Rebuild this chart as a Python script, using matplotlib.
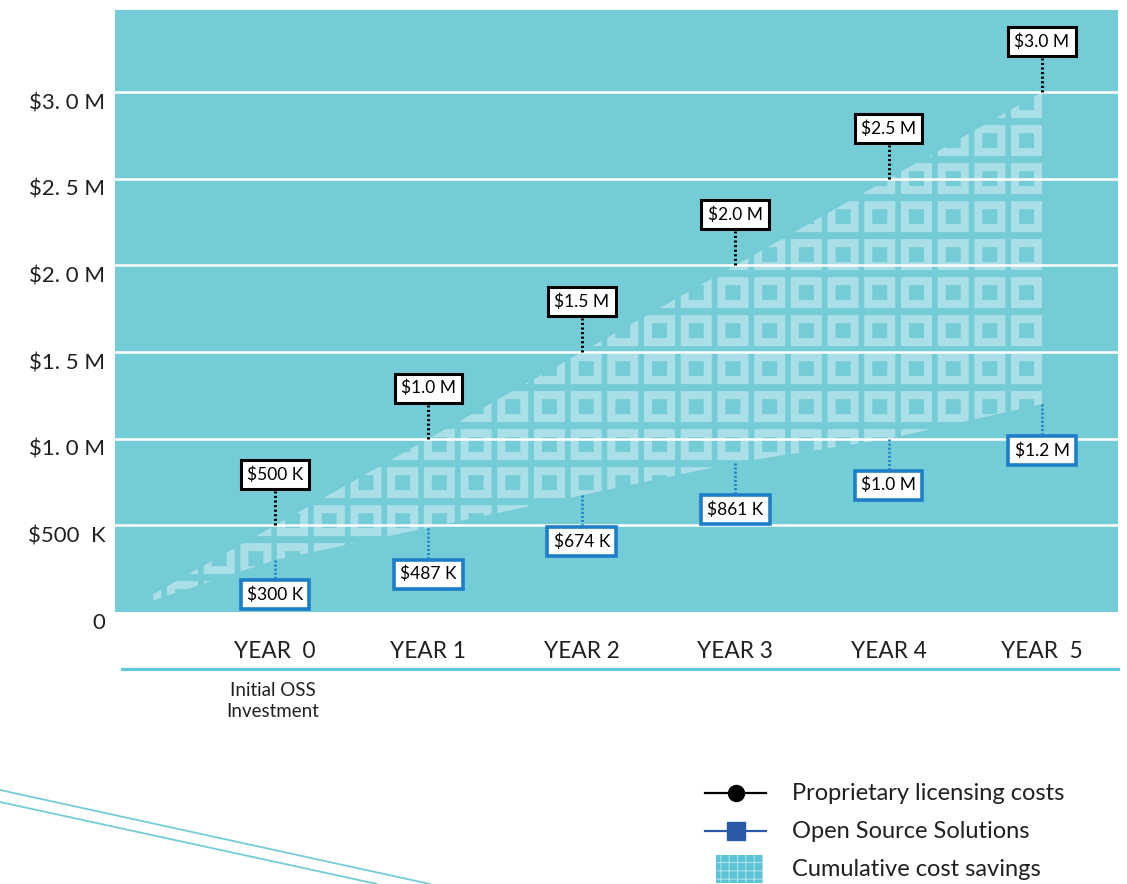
import numpy as np
import matplotlib
matplotlib.use('Agg')
import matplotlib.pyplot as plt
from matplotlib.path import Path
from matplotlib.patches import PathPatch, Polygon, Rectangle
from matplotlib.lines import Line2D
from matplotlib.transforms import IdentityTransform, ScaledTranslation

plt.rcParams['font.family'] = ['Lato', 'DejaVu Sans']

# data
years = [0, 1, 2, 3, 4, 5]
year_labels = ['YEAR  0', 'YEAR 1', 'YEAR 2', 'YEAR 3', 'YEAR 4', 'YEAR  5']
prop_costs = [0.5, 1.0, 1.5, 2.0, 2.5, 3.0]          # $M
oss_costs = [0.3, 0.487, 0.674, 0.861, 1.0, 1.2]      # $M
prop_labels = ['$500 K', '$1.0 M', '$1.5 M', '$2.0 M', '$2.5 M', '$3.0 M']
oss_labels = ['$300 K', '$487 K', '$674 K', '$861 K', '$1.0 M', '$1.2 M']
y_ticks = [0, 0.5, 1.0, 1.5, 2.0, 2.5, 3.0]
y_tick_labels = ['0', '$500  K', '$1. 0 M', '$1. 5 M', '$2. 0 M', '$2. 5 M', '$3. 0 M']
wedge_start = -0.8       # savings wedge begins a bit left of year 0
wedge_start_low = 0.065

TEAL = '#74CCD6'
LIGHT = '#ABDFE8'
BLUE = '#1E7DC8'
TXT = '#231F20'

W, H = 1127, 884
fig = plt.figure(figsize=(W / 100, H / 100), dpi=100)
ax = fig.add_axes([115 / W, 1 - 612 / H, (1118 - 115) / W, (612 - 10) / H])
ax.set_facecolor(TEAL)
ax.set_xlim(-1.043, 5.495)
ax.set_ylim(0, 3.474)
for s in ax.spines.values():
    s.set_visible(False)

# gridlines
for v in y_ticks[1:]:
    ax.axhline(v, color='white', lw=1.8, zorder=2)

# ticks
ax.set_yticks(y_ticks)
ax.set_yticklabels(y_tick_labels, fontsize=16, color=TXT)
ax.tick_params(axis='y', length=0, pad=7)
for lab in ax.get_yticklabels():
    lab.set_transform(lab.get_transform() + ScaledTranslation(0, -0.09, fig.dpi_scale_trans))
ax.set_xticks(years)
ax.set_xticklabels(year_labels, fontsize=16.3, color=TXT)
ax.tick_params(axis='x', length=0, pad=21)

# savings wedge between the two cost lines
slope0 = prop_costs[1] - prop_costs[0]
upper = [(wedge_start, prop_costs[0] + wedge_start * slope0)] + list(zip(years, prop_costs))
lower = list(zip(years, oss_costs))[::-1] + [(wedge_start, wedge_start_low)]
wedge = Polygon(upper + lower, closed=True, transform=ax.transData)

# square ring pattern, built in pixels and clipped to the wedge
x5, y3 = ax.transData.transform((years[-1], prop_costs[-1]))
xl, yb = ax.transData.transform((wedge_start, 0))
px, py, size, hole = 36.7, 38.0, 31.0, 15.0
verts, codes = [], []
right = x5
while right > xl - px:
    top = y3 + 5
    while top > yb - py:
        l, t = right - size, top
        verts += [(l, t), (l + size, t), (l + size, t - size), (l, t - size), (l, t)]
        codes += [Path.MOVETO, Path.LINETO, Path.LINETO, Path.LINETO, Path.CLOSEPOLY]
        m = (size - hole) / 2
        hl, ht = l + m, t - m
        verts += [(hl, ht), (hl, ht - hole), (hl + hole, ht - hole), (hl + hole, ht), (hl, ht)]
        codes += [Path.MOVETO, Path.LINETO, Path.LINETO, Path.LINETO, Path.CLOSEPOLY]
        top -= py
    right -= px
pattern = PathPatch(Path(verts, codes), transform=IdentityTransform(),
                    facecolor=LIGHT, edgecolor='none', zorder=1)
ax.add_artist(pattern)
pattern.set_clip_path(wedge)

# value labels with dotted leaders (leaders drawn in pixels)
up_gap, down_gap = 34, 30
for i, x in enumerate(years):
    # proprietary: box above
    xp, yp = ax.transData.transform((x, prop_costs[i]))
    ax.add_artist(Line2D([xp, xp], [yp, yp + up_gap], transform=IdentityTransform(),
                         color='black', lw=2.2, dashes=(0.7, 0.8),
                         solid_capstyle='butt', dash_capstyle='butt', zorder=5))
    ax.annotate(prop_labels[i], xy=(x, prop_costs[i]), xytext=(0, up_gap + 16.5),
                textcoords='offset pixels', ha='center', va='center',
                fontsize=12.5, color='black', zorder=6,
                bbox=dict(boxstyle='square,pad=0.36', fc='white', ec='black', lw=2.2))
    # open source: box below
    g = 18 if i == 0 else down_gap
    xo, yo = ax.transData.transform((x, oss_costs[i]))
    ax.add_artist(Line2D([xo, xo], [yo, yo - g], transform=IdentityTransform(),
                         color=BLUE, lw=1.9, dashes=(0.75, 0.8),
                         solid_capstyle='butt', dash_capstyle='butt', zorder=5))
    ax.annotate(oss_labels[i], xy=(x, oss_costs[i]), xytext=(0, -(g + 16.5)),
                textcoords='offset pixels', ha='center', va='center',
                fontsize=12.5, color='black', zorder=6,
                bbox=dict(boxstyle='square,pad=0.36', fc='white', ec=BLUE, lw=2.6))

ax.annotate('Initial OSS\nInvestment', xy=(years[0], 0), xycoords=('data', 'axes fraction'),
            xytext=(-2, -89), textcoords='offset pixels', ha='center', va='center',
            fontsize=13.5, color=TXT, linespacing=1.35, annotation_clip=False)

# light baseline under the year labels
fig.add_artist(Line2D([122 / W, 1118 / W], [1 - 669 / H] * 2, transform=fig.transFigure,
                      color='#5BC8DC', lw=2.2))

# decorative lines bottom left
fig.add_artist(Line2D([0, 430 / W], [1 - 790 / H, 1 - 884 / H], transform=fig.transFigure,
                      color=TEAL, lw=1.3))
fig.add_artist(Line2D([0, 377 / W], [1 - 802 / H, 1 - 884 / H], transform=fig.transFigure,
                      color=TEAL, lw=1.3))

# legend
leg_y = [793, 831, 869]
fig.add_artist(Line2D([705 / W, 766 / W], [1 - leg_y[0] / H] * 2, transform=fig.transFigure,
                      color='black', lw=1.6))
fig.add_artist(Line2D([735.5 / W], [1 - leg_y[0] / H], transform=fig.transFigure,
                      color='black', marker='o', markersize=11.5, lw=0))
fig.add_artist(Line2D([705 / W, 766 / W], [1 - leg_y[1] / H] * 2, transform=fig.transFigure,
                      color='#2B5BA8', lw=1.6))
fig.add_artist(Line2D([735.5 / W], [1 - leg_y[1] / H], transform=fig.transFigure,
                      color='#2B5BA8', marker='s', markersize=13, lw=0))
plt.rcParams['hatch.linewidth'] = 0.8
fig.add_artist(Rectangle((716 / W, 1 - 883 / H), 47 / W, 28 / H, transform=fig.transFigure,
                         facecolor='#5BC5D6', edgecolor='#A9E0EA', lw=0, hatch='++'))
legend_texts = ['Proprietary licensing costs', 'Open Source Solutions', 'Cumulative cost savings']
for t, yy in zip(legend_texts, leg_y):
    fig.text(792 / W, 1 - yy / H, t, fontsize=17, color=TXT, va='center', ha='left')

fig.savefig('out.png', dpi=100)
